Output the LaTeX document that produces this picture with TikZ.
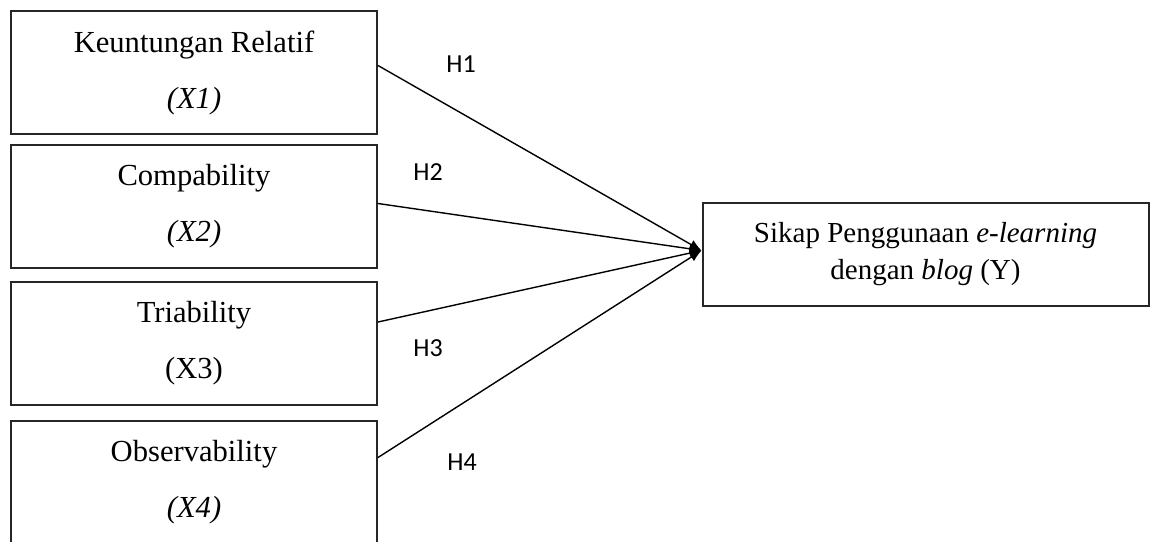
\documentclass[tikz,border=0pt]{standalone}
\usepackage{fontspec}
\setmainfont{Liberation Serif}
\newfontfamily\hypfont{Carlito}
\usetikzlibrary{arrows.meta}
\begin{document}
\begin{tikzpicture}[x=0.5pt,y=-0.5pt,
  varbox/.style={draw=black!85, line width=1pt, minimum width=183pt, minimum height=61.5pt,
    align=center, inner sep=0pt, font=\fontsize{15.3}{28}\selectfont},
  ybox/.style={draw=black!85, line width=1pt, minimum width=223pt, minimum height=51.5pt,
    align=center, inner sep=0pt, font=\fontsize{14.5}{18.5}\selectfont},
  hyp/.style={font=\hypfont\fontsize{13}{14}\selectfont, inner sep=0pt},
  link/.style={line width=0.7pt, -{Latex[length=6pt,width=5pt]}}]
\useasboundingbox (0,0) rectangle (1151,541);
\clip (0,0) rectangle (1151,541);
% variabel bebas
\node [varbox] (x1) at (194,72.5) {Keuntungan Relatif\\\textit{(X1)}};
\node [varbox] (x2) at (194,206.5) {Compability\\\textit{(X2)}};
\node [varbox] (x3) at (194,343) {Triability\\(X3)};
\node [varbox] (x4) at (194,482.5) {Observability\\\textit{(X4)}};
% variabel terikat
\node [ybox] (y) at (925.5,254.5) {Sikap Penggunaan \textit{e-learning}\\dengan \textit{blog} (Y)};
\coordinate (tip) at ([yshift=2pt]y.west);
% hipotesis
\draw [link] ([yshift=3.5pt]x1.east) -- (tip);
\draw [link] ([yshift=1.5pt]x2.east) -- (tip);
\draw [link] ([yshift=10.5pt]x3.east) -- (tip);
\draw [link] ([yshift=12.5pt]x4.east) -- (tip);
\node [hyp] (h1) at (461,64) {H1};
\node [hyp] (h2) at (428,172) {H2};
\node [hyp] (h3) at (428,348) {H3};
\node [hyp] (h4) at (462,462) {H4};
\end{tikzpicture}
\end{document}
